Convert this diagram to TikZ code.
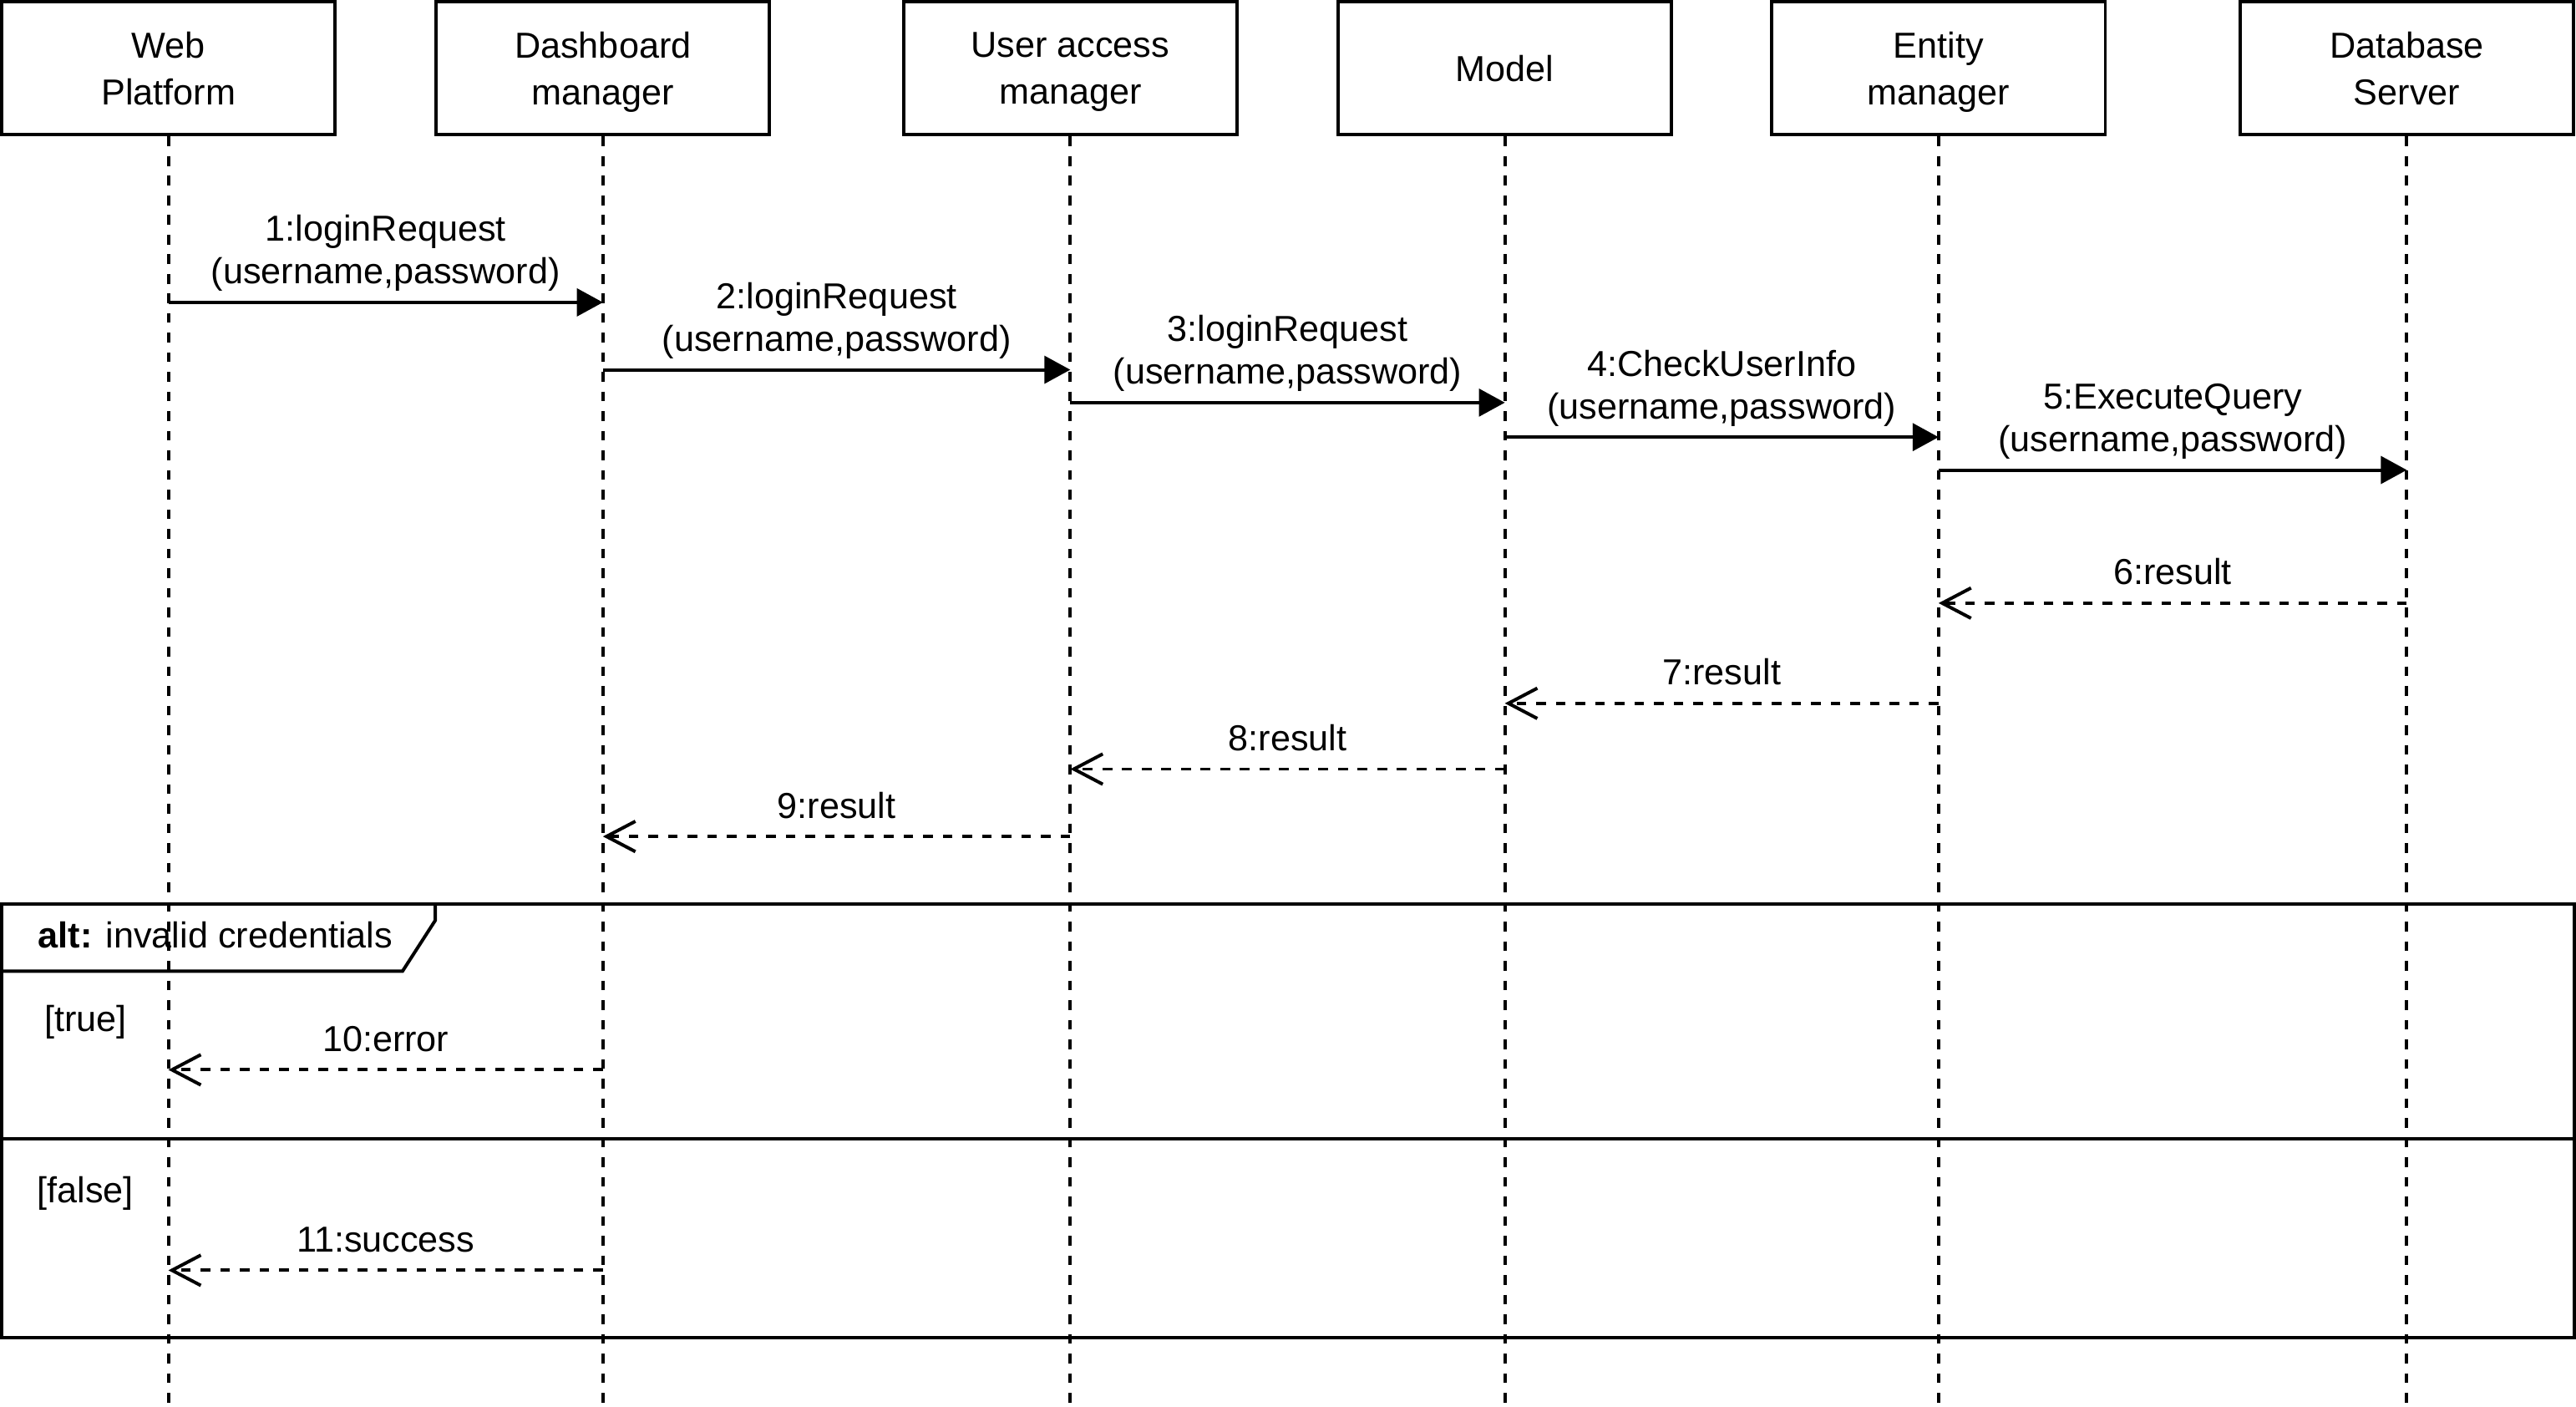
\documentclass[tikz,border=0pt]{standalone}
\usepackage{fontspec}
\setmainfont{Liberation Sans}
\usetikzlibrary{arrows.meta}

\tikzset{
  actor/.style={draw, line width=1.15pt, minimum width=4.06cm, minimum height=1.62cm,
    align=center, text depth=0pt, font=\fontsize{12.5}{16.2}\selectfont},
  lifeline/.style={line width=1.15pt, dash pattern=on 3.4pt off 3.4pt},
  call/.style={line width=1.15pt, -{Triangle[length=9pt,width=9.5pt]}},
  reply/.style={line width=1.15pt, dash pattern=on 3.4pt off 3.4pt,
    -{Straight Barb[length=10pt,width=10.5pt]}},
  msg/.style={midway, anchor=base, inner sep=0pt, align=center, yshift=6.4pt,
    font=\fontsize{12.5}{14.7}\selectfont},
  guard/.style={inner sep=0pt, font=\fontsize{12.5}{14.7}\selectfont},
}

\begin{document}
\begin{tikzpicture}[x=0.02cm, y=-0.02cm]
  \useasboundingbox (0,0) rectangle (1568,856);

  % participants
  \node[actor] (web)    at (102.5,41.5) {Web\\Platform};
  \node[actor] (dash)   at (367,41.5)   {Dashboard\\manager};
  \node[actor] (uam)    at (651.5,41.5) {User access\\manager};
  \node[actor] (model)  at (916,41.5)   {Model};
  \node[actor] (entity) at (1180,41.5)  {Entity\\manager};
  \node[actor] (db)     at (1465,41.5)  {Database\\Server};

  \foreach \n in {web,dash,uam,model,entity,db}
    \draw[lifeline] (\n.south) -- (\n |- 0,856);

  % requests
  \draw[call] (web |- 0,184) -- node[msg] {1:loginRequest\\(username,password)} (dash |- 0,184);
  \draw[call] (dash |- 0,225) -- node[msg] {2:loginRequest\\(username,password)} (uam |- 0,225);
  \draw[call] (uam |- 0,245) -- node[msg] {3:loginRequest\\(username,password)} (model |- 0,245);
  \draw[call] (model |- 0,266) -- node[msg] {4:CheckUserInfo\\(username,password)} (entity |- 0,266);
  \draw[call] (entity |- 0,286) -- node[msg] {5:ExecuteQuery\\(username,password)} (db |- 0,286);

  % replies
  \draw[reply] (db |- 0,367) -- node[msg] {6:result} (entity |- 0,367);
  \draw[reply] (entity |- 0,428) -- node[msg] {7:result} (model |- 0,428);
  \draw[reply] (model |- 0,468) -- node[msg] {8:result} (uam |- 0,468);
  \draw[reply] (uam |- 0,509) -- node[msg] {9:result} (dash |- 0,509);

  % alt fragment
  \draw[line width=1.15pt] (1,550) rectangle (1567,814);
  \draw[line width=1.15pt] (1,591) -- (245,591) -- (265,560) -- (265,550);
  \draw[line width=1.15pt] (1,693) -- (1567,693);
  \node[guard, anchor=base west] (alt) at (23,577) {\textbf{alt:} invalid credentials};
  \node[guard] (true) at (52,622) {[true]};
  \node[guard] (false) at (52,726) {[false]};

  \draw[reply] (dash |- 0,651) -- node[msg] {10:error} (web |- 0,651);
  \draw[reply] (dash |- 0,773) -- node[msg] {11:success} (web |- 0,773);
\end{tikzpicture}
\end{document}
